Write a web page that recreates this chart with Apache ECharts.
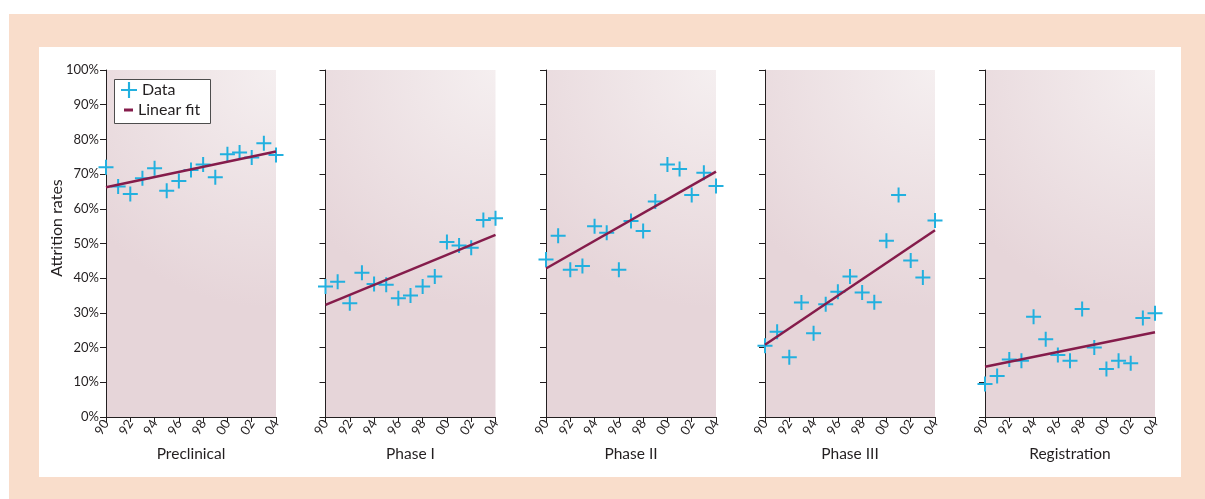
<!DOCTYPE html>
<html>
<head>
<meta charset="utf-8">
<script src="https://cdn.jsdelivr.net/npm/echarts@6/dist/echarts.min.js"></script>
<style>
  html, body { margin: 0; padding: 0; background: #ffffff; }
  #wrap { position: relative; width: 1205px; height: 499px; overflow: hidden; }
  #peach { position: absolute; left: 9px; top: 14px; width: 1196px; height: 485px; background: #f9ddcb; }
  #paper { position: absolute; left: 39px; top: 47px; width: 1142px; height: 430px; background: #ffffff; }
  #chart { position: absolute; left: 0; top: 0; width: 1205px; height: 499px; }
</style>
</head>
<body>
<div id="wrap">
  <div id="peach"></div>
  <div id="paper"></div>
  <div id="chart"></div>
</div>
<script>
// ---- data ----
const categories = ['90','91','92','93','94','95','96','97','98','99','00','01','02','03','04'];
const preclinical  = [72.0, 66.4, 64.3, 68.8, 71.7, 65.2, 68.0, 71.2, 72.8, 69.1, 75.7, 76.2, 74.8, 78.9, 75.5];
const phase1       = [37.6, 39.0, 32.8, 41.6, 38.3, 38.1, 34.2, 35.0, 37.6, 40.5, 50.4, 49.4, 48.8, 56.8, 57.3];
const phase2       = [45.4, 52.2, 42.4, 43.5, 55.0, 53.1, 42.4, 56.5, 53.6, 62.1, 72.8, 71.5, 64.0, 70.4, 66.6];
const phase3       = [20.5, 24.6, 17.2, 33.0, 24.1, 32.5, 36.1, 40.5, 35.9, 33.1, 50.8, 64.0, 45.1, 40.2, 56.6];
const registration = [ 9.5, 11.8, 16.6, 16.2, 28.9, 22.4, 17.9, 16.2, 31.1, 20.0, 13.8, 16.2, 15.5, 28.5, 29.9];
const fitStart = [66.2, 32.3, 42.8, 20.8, 14.5];
const fitEnd   = [76.5, 52.5, 70.7, 53.8, 24.4];
const panelNames = ['Preclinical', 'Phase I', 'Phase II', 'Phase III', 'Registration'];
const yAxisTitle = 'Attrition rates';
const seriesNames = ['Data', 'Linear fit'];

// ---- layout / style ----
const panels = [preclinical, phase1, phase2, phase3, registration];
const lefts = [106, 325.5, 546, 765, 985];
const plotW = 170, plotTop = 70, plotH = 347;
const FONT = 'Lato';
const TXT = '#231f20';
const CYAN = '#22b0df';
const MAROON = '#851c4b';
const PLUS = 'path://M6.5,0H8.5V15H6.5ZM0,6.5H15V8.5H0Z';

const bg = new echarts.graphic.RadialGradient(1, 0, 1.4, [
  { offset: 0, color: '#f5eff0' },
  { offset: 1, color: '#e6d5d9' }
]);

const grids = [], xAxes = [], yAxes = [], series = [];
panels.forEach((vals, i) => {
  grids.push({
    left: lefts[i], top: plotTop, width: plotW, height: plotH,
    show: true, backgroundColor: bg, borderWidth: 0
  });
  xAxes.push({
    type: 'category', gridIndex: i, data: categories, boundaryGap: false,
    axisLine: { show: true, lineStyle: { color: TXT, width: 1 } },
    axisTick: { show: true, interval: 1, length: 5, lineStyle: { color: TXT } },
    axisLabel: { interval: 1, rotate: 58, margin: 4, fontSize: 13, color: TXT, fontFamily: FONT },
    splitLine: { show: false },
    name: panelNames[i], nameLocation: 'middle', nameGap: 29,
    nameTextStyle: { fontSize: 15.5, color: TXT, fontFamily: FONT }
  });
  yAxes.push({
    type: 'value', gridIndex: i, min: 0, max: 100, interval: 10,
    axisLine: { show: true, lineStyle: { color: TXT, width: 1 } },
    axisTick: { show: true, length: 6, lineStyle: { color: TXT } },
    axisLabel: {
      show: i === 0, formatter: '{value}%', margin: 7, fontSize: 13,
      color: TXT, fontFamily: FONT, padding: [0, 0, 6, 0]
    },
    splitLine: { show: false }
  });
  series.push({
    name: seriesNames[0], type: 'scatter', xAxisIndex: i, yAxisIndex: i,
    symbol: PLUS, symbolSize: 15, data: vals,
    itemStyle: { color: CYAN, opacity: 1 }, z: 3
  });
  series.push({
    name: seriesNames[1], type: 'line', xAxisIndex: i, yAxisIndex: i,
    symbol: 'none', showSymbol: false,
    data: [[categories[0], fitStart[i]], [categories[categories.length - 1], fitEnd[i]]],
    lineStyle: { color: MAROON, width: 2.5 }, itemStyle: { color: MAROON }, z: 4
  });
});

const chart = echarts.init(document.getElementById('chart'), null, { renderer: 'canvas' });
chart.setOption({
  animation: false,
  backgroundColor: 'transparent',
  textStyle: { fontFamily: FONT },
  grid: grids, xAxis: xAxes, yAxis: yAxes, series: series,
  legend: [
    {
      data: [{ name: seriesNames[0], icon: PLUS }], left: 121, top: 82, padding: 0,
      itemWidth: 16, itemHeight: 16, itemGap: 0, itemTextGap: 4, selectedMode: false,
      textStyle: { fontSize: 16, color: TXT, fontFamily: FONT }, z: 10
    },
    {
      data: [{ name: seriesNames[1], icon: 'rect' }], left: 124, top: 102, padding: 0,
      itemWidth: 9, itemHeight: 3, itemGap: 0, itemTextGap: 8, selectedMode: false,
      textStyle: { fontSize: 16, color: TXT, fontFamily: FONT }, z: 10
    }
  ],
  graphic: [
    {
      type: 'rect', z: 8, silent: true,
      shape: { x: 114.5, y: 79.5, width: 96, height: 44 },
      style: { fill: '#ffffff', stroke: '#4d4d4d', lineWidth: 1 }
    },
    {
      type: 'text', z: 8, silent: true, x: 57, y: 228, rotation: Math.PI / 2,
      style: {
        text: yAxisTitle, fontSize: 16, fontFamily: FONT, fill: TXT,
        textAlign: 'center', textVerticalAlign: 'middle'
      }
    }
  ]
});
</script>
</body>
</html>
